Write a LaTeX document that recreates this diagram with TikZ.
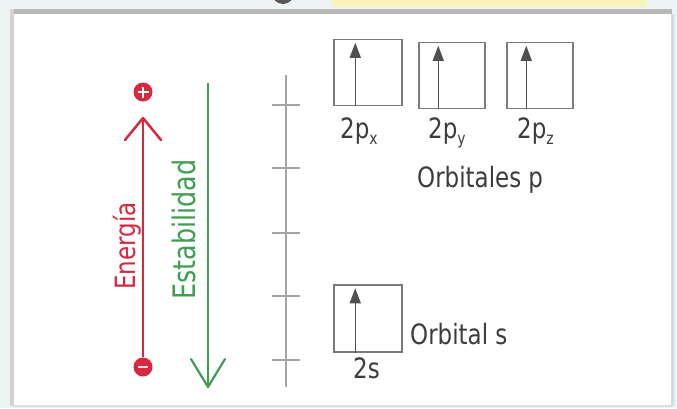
\documentclass[tikz,border=0pt]{standalone}
\usepackage{fontspec}
\newfontfamily\condfont[FakeStretch=0.82]{DejaVu Sans}
\usetikzlibrary{arrows.meta}
\definecolor{enred}{HTML}{D6283E}
\definecolor{stgreen}{HTML}{3F9E52}
\definecolor{txtgray}{HTML}{3C3C3C}
\definecolor{boxgray}{HTML}{7A7A7A}
\definecolor{axisgray}{HTML}{A4A4A4}
\definecolor{outerbg}{HTML}{EEF3F4}
\definecolor{bandyellow}{HTML}{F8F3B8}
\begin{document}
\begin{tikzpicture}[x=1pt,y=-1pt,
  lbl/.style={font=\condfont\fontsize{28}{28}\selectfont, text=txtgray, inner sep=0pt},
  orbbox/.style={draw=boxgray, line width=1.5pt, minimum width=68pt, minimum height=66pt, inner sep=0pt},
  orbarrow/.style={draw=txtgray!90, line width=1.5pt, -{Triangle[length=15pt,width=11pt]}},
  tickline/.style={draw=axisgray, line width=2pt},
  sign/.style={circle, fill=enred, minimum size=19pt, inner sep=0pt}
]
\useasboundingbox (0,0) rectangle (677,408);
% background and frame
\fill[outerbg] (0,0) rectangle (677,408);
\fill[white] (12,12) rectangle (672,406);
\fill[bandyellow] (332,0) rectangle (647,7);
\begin{scope}
  \clip (0,0) rectangle (677,408);
  \fill[gray!70!black] (283,-7) circle (11);
\end{scope}
\draw[gray!55, line width=5pt] (14,11) -- (672,11);
\draw[gray!35, line width=4pt] (12,9) -- (12,406);
\draw[gray!30, line width=3pt] (672,14) -- (672,406);
\draw[gray!25, line width=2pt] (12,406) -- (672,406);

% energy arrow
\node[sign, path picture={\draw[white, line width=2.2pt] (path picture bounding box.center) ++(-5.5,0) -- ++(11,0);
  \draw[white, line width=2.2pt] (path picture bounding box.center) ++(0,-5.5) -- ++(0,11);}] (plus) at (143,92) {};
\node[sign, path picture={\draw[white!85!enred, line width=2pt] (path picture bounding box.center) ++(-5,0) -- ++(10,0);}] (minus) at (143,367) {};
\coordinate (etip) at (143,118);
\draw[enred, line width=2.5pt] (minus.north) -- (etip);
\draw[enred, line width=2.5pt, line cap=round, line join=round] (125,140) -- (etip) -- (161,140);
\node[font=\condfont\fontsize{28}{28}\selectfont, text=enred, inner sep=0pt, rotate=90, anchor=base west] (energia) at (135,290) {Energía};

% stability arrow
\coordinate (gtop) at (208,83);
\coordinate (gtip) at (208,387);
\draw[stgreen, line width=2.2pt] (gtop) -- (gtip);
\draw[stgreen, line width=2.2pt, line cap=round, line join=round] (191,359) -- (gtip) -- (225,359);
\node[font=\condfont\fontsize{31}{31}\selectfont, text=stgreen, inner sep=0pt, rotate=90, anchor=base west] (estab) at (195,300) {Estabilidad};

% axis with ticks
\coordinate (atop) at (286,75);
\coordinate (abot) at (286,387);
\draw[tickline] (atop) -- (abot);
\foreach \yy in {105,168,233,296,360} {
  \draw[tickline] (272,\yy) -- (300,\yy);
}

% p orbitals
\node[orbbox] (px) at (368,72.5) {};
\node[orbbox, minimum width=66pt] (py) at (452,75.5) {};
\node[orbbox, minimum width=66pt] (pz) at (540,75.5) {};
\draw[orbarrow] ([xshift=22pt]px.south west) -- ([xshift=22pt,yshift=-4pt]px.north west);
\draw[orbarrow] ([xshift=20pt]py.south west) -- ([xshift=20pt,yshift=-4pt]py.north west);
\draw[orbarrow] ([xshift=20pt]pz.south west) -- ([xshift=20pt,yshift=-4pt]pz.north west);
\node[lbl, anchor=base west] (pxl) at (340,138) {2p\raisebox{-6pt}{\fontsize{17}{17}\selectfont x}};
\node[lbl, anchor=base west] (pyl) at (428,138) {2p\raisebox{-6pt}{\fontsize{17}{17}\selectfont y}};
\node[lbl, anchor=base west] (pzl) at (517,138) {2p\raisebox{-6pt}{\fontsize{17}{17}\selectfont z}};
\node[lbl, anchor=base west] (orbp) at (417,187) {Orbitales p};

% s orbital
\node[orbbox, minimum height=67pt] (s) at (368,318.5) {};
\draw[orbarrow] ([xshift=22pt]s.south west) -- ([xshift=22pt,yshift=-4pt]s.north west);
\node[lbl, anchor=base west] (sl) at (353,378) {2s};
\node[lbl, anchor=base west] (orbs) at (410,344) {Orbital s};
\end{tikzpicture}
\end{document}
